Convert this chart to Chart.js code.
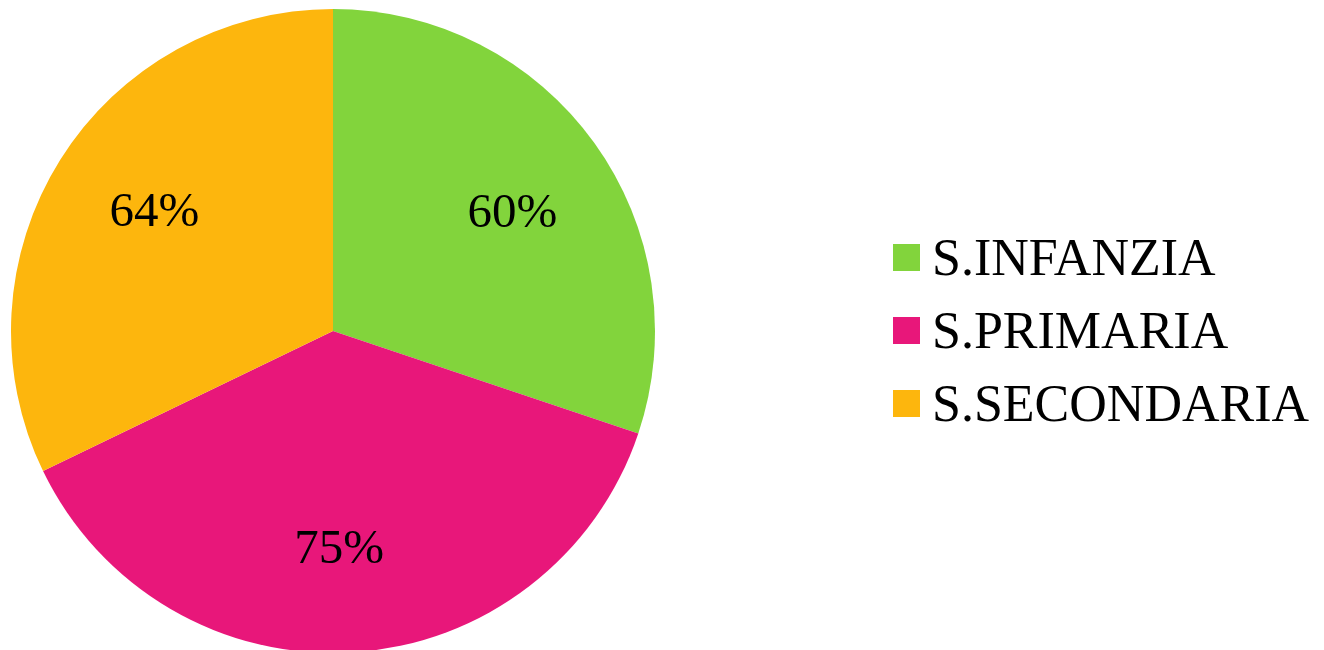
<!DOCTYPE html>
<html>
<head>
<meta charset="utf-8">
<script src="https://cdn.jsdelivr.net/npm/chart.js@4/dist/chart.umd.min.js"></script>
<style>
  html, body { margin: 0; padding: 0; background: #fff; }
  #stage { position: relative; width: 1324px; height: 650px; overflow: hidden; }
  #pieBox { position: absolute; left: 0; top: 0; width: 666px; height: 662px; }
  #legend { position: absolute; left: 893px; top: 221px; font-family: "Liberation Serif", serif; font-size: 52px; color: #000; }
  .lg-row { display: flex; align-items: center; height: 73px; }
  .lg-box { width: 27px; height: 27px; margin-right: 12px; flex: none; }
</style>
</head>
<body>
<div id="stage">
  <div id="pieBox"><canvas id="pie"></canvas></div>
  <div id="legend"></div>
</div>
<script>
// ── data ──
const labels = ['S.INFANZIA', 'S.PRIMARIA', 'S.SECONDARIA']
const values = [60, 75, 64]
const colors = ['#82d43c', '#e8177a', '#fdb60d']

// percent labels drawn inside each slice
const sliceLabels = {
  id: 'sliceLabels',
  afterDatasetsDraw(chart) {
    const { ctx } = chart
    const meta = chart.getDatasetMeta(0)
    ctx.save()
    ctx.font = '49px "Liberation Serif", serif'
    ctx.fillStyle = '#000'
    ctx.textAlign = 'center'
    ctx.textBaseline = 'alphabetic'
    meta.data.forEach((arc, i) => {
      const p = arc.getProps(['x', 'y', 'startAngle', 'endAngle', 'outerRadius'], true)
      const mid = (p.startAngle + p.endAngle) / 2 + 0.035
      const r = p.outerRadius * 0.67
      const x = p.x + Math.cos(mid) * r
      const y = p.y + Math.sin(mid) * r
      ctx.fillText(values[i] + '%', x, y + 16)
    })
    ctx.restore()
  }
}

new Chart(document.getElementById('pie'), {
  type: 'pie',
  data: {
    labels,
    datasets: [{ data: values, backgroundColor: colors, borderWidth: 0, hoverOffset: 0 }]
  },
  options: {
    responsive: true, maintainAspectRatio: false, animation: false, events: [],
    layout: { padding: { top: 9, bottom: 9, left: 11, right: 11 } },
    plugins: { legend: { display: false }, tooltip: { enabled: false } },
  },
  plugins: [sliceLabels],
})

document.getElementById('legend').innerHTML = labels.map((l, i) =>
  `<div class="lg-row"><span class="lg-box" style="background:${colors[i]}"></span><span>${l}</span></div>`
).join('')
</script>
</body>
</html>
